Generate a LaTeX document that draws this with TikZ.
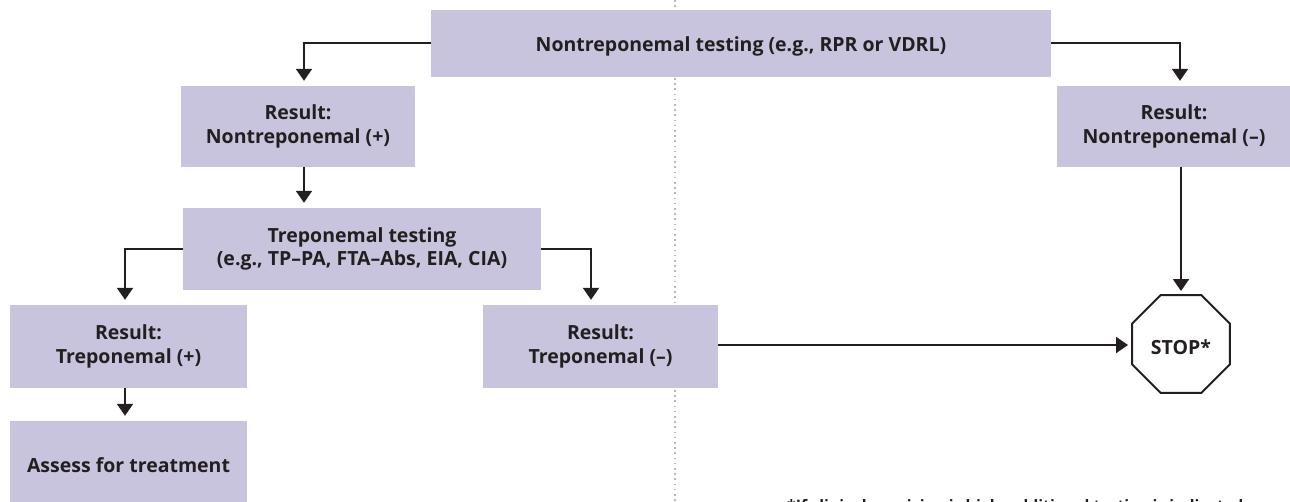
\documentclass[tikz,border=0pt]{standalone}
\usepackage{fontspec}
\setmainfont{Open Sans}
\usetikzlibrary{arrows.meta,shapes.geometric,calc}
\definecolor{boxfill}{HTML}{C9C4DE}
\definecolor{ink}{HTML}{231F20}
\definecolor{divider}{HTML}{B8B8B8}
\begin{document}
\begin{tikzpicture}[x=1pt,y=-1pt,
  box/.style={fill=boxfill,draw=none,inner sep=0pt,align=center,text=ink,
    font=\bfseries\fontsize{19.5}{23.5}\selectfont,
    execute at begin node={\rule{0pt}{21.5pt}}},
  arr/.style={draw=ink,line width=2pt,-{Triangle[width=16pt,length=12pt]},shorten >=5pt},
  stopsign/.style={regular polygon,regular polygon sides=8,minimum size=106pt,
    inner sep=0pt,draw=ink,line width=2pt,fill=white,text=ink,
    font=\bfseries\fontsize{19.5}{23.5}\selectfont,
    execute at begin node={\rule{0pt}{22pt}}}]
\useasboundingbox (0,0) rectangle (1290,502);
% divider
\coordinate (dtop) at (675,0);
\coordinate (dbot) at (675,502);
\draw[divider,line width=1.6pt,dash pattern=on 1.6pt off 3.6pt] (dtop) -- (dbot);
% boxes
\node[box,minimum width=620pt,minimum height=67pt] (top) at (741,43.5) {Nontreponemal testing (e.g., RPR or VDRL)};
\node[box,minimum width=234pt,minimum height=81pt] (np) at (298,126.5) {Result:\\Nontreponemal (+)};
\node[box,minimum width=234pt,minimum height=81pt] (nn) at (1174,126.5) {Result:\\Nontreponemal (–)};
\node[box,minimum width=358pt,minimum height=82pt] (tt) at (362,249) {Treponemal testing\\(e.g., TP–PA, FTA–Abs, EIA, CIA)};
\node[box,minimum width=237pt,minimum height=83pt] (tp) at (128.5,346.5) {Result:\\Treponemal (+)};
\node[box,minimum width=235pt,minimum height=83pt] (tn) at (600.5,346.5) {Result:\\Treponemal (–)};
\node[box,minimum width=237pt,minimum height=82pt] (as) at (128.5,462) {Assess for treatment};
\node[stopsign] (stop) at (1181,344) {STOP*};
% footnote (cut off by the page edge, as in the reference)
\node[anchor=base west,inner sep=0pt,text=ink,font=\bfseries\fontsize{15.8}{18}\selectfont] (note) at (787,511.5) {*If clinical suspicion is high, additional testing is indicated};
% connectors
\draw[arr] (top.west) -| ([xshift=6pt]np.north);
\draw[arr] (top.east) -| ([xshift=6pt]nn.north);
\draw[arr] ([xshift=6pt]np.south) -- ([xshift=6pt]np.south |- tt.north);
\draw[arr] (tt.west) -| ([xshift=-3.5pt]tp.north);
\draw[arr] (tt.east) -| ([xshift=-9.5pt]tn.north);
\draw[arr] ([xshift=-3.5pt]tp.south) -- ([xshift=-3.5pt]tp.south |- as.north);
\draw[arr,shorten >=3pt] ([yshift=1.5pt]tn.east) -- ([yshift=1.5pt]tn.east -| stop.west);
\draw[arr,shorten >=3pt] (stop.north |- nn.south) -- (stop.north);
\end{tikzpicture}
\end{document}
